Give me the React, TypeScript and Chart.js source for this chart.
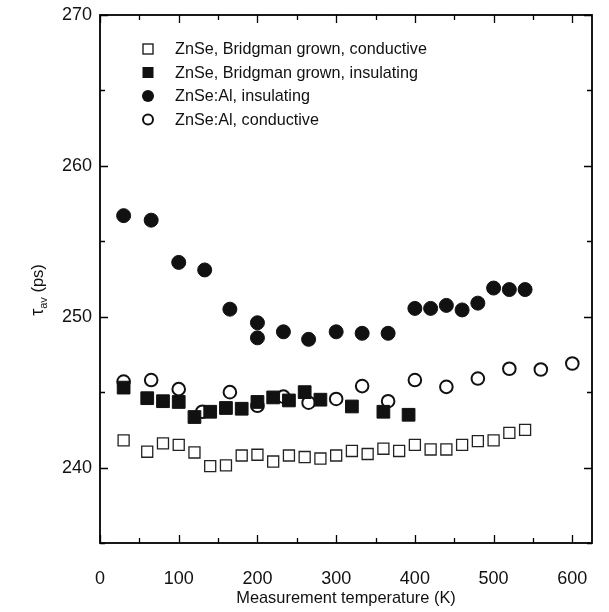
import React, { useEffect, useRef } from 'react';
import { Chart, registerables } from 'chart.js';

Chart.register(...registerables);

// ---- data ----
const bridgmanCondX = [30, 60, 80, 100, 120, 140, 160, 180, 200, 220, 240, 260, 280, 300, 320, 340, 360, 380, 400, 420, 440, 460, 480, 500, 520, 540];
const bridgmanCondY = [241.8, 241.05, 241.6, 241.5, 241.0, 240.1, 240.15, 240.8, 240.85, 240.4, 240.8, 240.7, 240.6, 240.8, 241.1, 240.9, 241.25, 241.1, 241.5, 241.2, 241.2, 241.5, 241.75, 241.8, 242.3, 242.5];

const bridgmanInsX = [30, 60, 80, 100, 120, 140, 160, 180, 200, 220, 240, 260, 280, 320, 360, 392];
const bridgmanInsY = [245.3, 244.6, 244.4, 244.35, 243.35, 243.7, 243.95, 243.9, 244.35, 244.65, 244.45, 245.0, 244.5, 244.05, 243.7, 243.5];

const alInsX = [30, 65, 100, 133, 165, 200, 200, 233, 265, 300, 333, 366, 400, 420, 440, 460, 480, 500, 520, 540];
const alInsY = [256.7, 256.4, 253.6, 253.1, 250.5, 249.6, 248.6, 249.0, 248.5, 249.0, 248.9, 248.9, 250.55, 250.55, 250.75, 250.45, 250.9, 251.9, 251.8, 251.8];

const alCondX = [30, 65, 100, 130, 165, 200, 233, 265, 300, 333, 366, 400, 440, 480, 520, 560, 600];
const alCondY = [245.7, 245.8, 245.2, 243.7, 245.0, 244.1, 244.7, 244.3, 244.55, 245.4, 244.4, 245.8, 245.35, 245.9, 246.55, 246.5, 246.9];

const seriesLabels = [
  'ZnSe, Bridgman grown, conductive',
  'ZnSe, Bridgman grown, insulating',
  'ZnSe:Al, insulating',
  'ZnSe:Al, conductive',
];

const xMajorTicks = [0, 100, 200, 300, 400, 500, 600];
const xMinorTicks = [50, 150, 250, 350, 450, 550];
const yMajorTicks = [240, 250, 260, 270];
const yMinorTicks = [235, 245, 255, 265];

const xTitle = 'Measurement temperature (K)';
const yTitleMain = 'τ';
const yTitleSub = 'av';
const yTitleUnit = ' (ps)';

const FONT = 'Arial, "Liberation Sans", Helvetica, sans-serif';

const toPts = (xs: number[], ys: number[]) => xs.map((x, i) => ({ x, y: ys[i] }));

type MarkerKind = 'openSquare' | 'filledSquare' | 'filledCircle' | 'openCircle';
const legendKinds: MarkerKind[] = ['openSquare', 'filledSquare', 'filledCircle', 'openCircle'];

function drawMarker(ctx: CanvasRenderingContext2D, kind: MarkerKind, x: number, y: number) {
  ctx.save();
  ctx.strokeStyle = '#111';
  ctx.fillStyle = '#111';
  if (kind === 'openSquare') {
    ctx.lineWidth = 1.3;
    ctx.fillStyle = '#fff';
    ctx.fillRect(x - 5, y - 5, 10, 10);
    ctx.strokeRect(x - 5, y - 5, 10, 10);
  } else if (kind === 'filledSquare') {
    ctx.fillRect(x - 5.5, y - 5.5, 11, 11);
  } else if (kind === 'filledCircle') {
    ctx.beginPath();
    ctx.arc(x, y, 6, 0, Math.PI * 2);
    ctx.fill();
  } else {
    ctx.lineWidth = 2;
    ctx.beginPath();
    ctx.arc(x, y, 5, 0, Math.PI * 2);
    ctx.fillStyle = '#fff';
    ctx.fill();
    ctx.stroke();
  }
  ctx.restore();
}

const decorPlugin = {
  id: 'decor',
  afterDraw(chart: any) {
    const { ctx, chartArea: a, scales } = chart;
    const xs = scales.x;
    const ys = scales.y;
    ctx.save();
    // frame
    ctx.strokeStyle = '#000';
    ctx.lineWidth = 1.8;
    ctx.strokeRect(a.left, a.top, a.right - a.left, a.bottom - a.top);
    // inward ticks
    ctx.lineWidth = 1.3;
    ctx.beginPath();
    const xt = (v: number, len: number) => {
      const px = Math.round(xs.getPixelForValue(v)) + 0.5;
      ctx.moveTo(px, a.bottom);
      ctx.lineTo(px, a.bottom - len);
      ctx.moveTo(px, a.top);
      ctx.lineTo(px, a.top + len);
    };
    const yt = (v: number, len: number) => {
      const py = Math.round(ys.getPixelForValue(v)) + 0.5;
      ctx.moveTo(a.left, py);
      ctx.lineTo(a.left + len, py);
      ctx.moveTo(a.right, py);
      ctx.lineTo(a.right - len, py);
    };
    xMajorTicks.forEach((v) => xt(v, 8));
    xMinorTicks.forEach((v) => xt(v, 5));
    yMajorTicks.forEach((v) => yt(v, 8));
    yMinorTicks.forEach((v) => yt(v, 5));
    ctx.stroke();

    // legend
    const lx = 148;
    const tx = 175;
    const ly0 = 49;
    const dy = 23.5;
    ctx.font = `16.2px ${FONT}`;
    ctx.fillStyle = '#111';
    ctx.textBaseline = 'middle';
    ctx.textAlign = 'left';
    seriesLabels.forEach((lab, i) => {
      const y = ly0 + i * dy;
      drawMarker(ctx, legendKinds[i], lx, y);
      ctx.fillStyle = '#111';
      ctx.fillText(lab, tx, y + 1);
    });

    // x title
    ctx.font = `16.4px ${FONT}`;
    ctx.textAlign = 'center';
    ctx.textBaseline = 'middle';
    ctx.fillText(xTitle, (a.left + a.right) / 2, 598);

    // y title (rotated, with subscript)
    ctx.save();
    ctx.translate(37, 290);
    ctx.rotate(-Math.PI / 2);
    ctx.textAlign = 'left';
    ctx.textBaseline = 'alphabetic';
    ctx.font = `18px ${FONT}`;
    const w1 = ctx.measureText(yTitleMain).width;
    ctx.font = `11px ${FONT}`;
    const w2 = ctx.measureText(yTitleSub).width;
    ctx.font = `16.5px ${FONT}`;
    const w3 = ctx.measureText(yTitleUnit).width;
    const total = w1 + w2 + w3;
    let cx = -total / 2;
    const base = 6;
    ctx.font = `18px ${FONT}`;
    ctx.fillText(yTitleMain, cx, base);
    cx += w1;
    ctx.font = `11px ${FONT}`;
    ctx.fillText(yTitleSub, cx, base + 4);
    cx += w2;
    ctx.font = `16.5px ${FONT}`;
    ctx.fillText(yTitleUnit, cx, base);
    ctx.restore();

    ctx.restore();
  },
};

export default function App() {
  const ref = useRef<HTMLCanvasElement | null>(null);

  useEffect(() => {
    if (!ref.current) return;
    const chart = new Chart(ref.current, {
      type: 'scatter',
      data: {
        datasets: [
          {
            label: seriesLabels[0],
            data: toPts(bridgmanCondX, bridgmanCondY),
            pointStyle: 'rect',
            pointRadius: 7.8,
            pointBackgroundColor: '#ffffff',
            pointBorderColor: '#222',
            pointBorderWidth: 1.3,
          },
          {
            label: seriesLabels[1],
            data: toPts(bridgmanInsX, bridgmanInsY),
            pointStyle: 'rect',
            pointRadius: 9,
            pointBackgroundColor: '#111',
            pointBorderColor: '#111',
            pointBorderWidth: 1,
          },
          {
            label: seriesLabels[2],
            data: toPts(alInsX, alInsY),
            pointStyle: 'circle',
            pointRadius: 7,
            pointBackgroundColor: '#111',
            pointBorderColor: '#111',
            pointBorderWidth: 1,
          },
          {
            label: seriesLabels[3],
            data: toPts(alCondX, alCondY),
            pointStyle: 'circle',
            pointRadius: 6.3,
            pointBackgroundColor: '#ffffff',
            pointBorderColor: '#111',
            pointBorderWidth: 2,
          },
        ],
      },
      options: {
        responsive: false,
        animation: false,
        devicePixelRatio: 1,
        layout: { padding: { top: 15, right: 17, left: 0, bottom: 0 } },
        plugins: { legend: { display: false }, tooltip: { enabled: false } },
        scales: {
          x: {
            type: 'linear',
            min: 0,
            max: 625,
            grid: { display: false, drawTicks: false },
            border: { display: false },
            afterBuildTicks: (s: any) => {
              s.ticks = xMajorTicks.map((v) => ({ value: v }));
            },
            ticks: {
              padding: 25,
              autoSkip: false,
              color: '#111',
              font: { family: FONT, size: 18 },
              maxRotation: 0,
              callback: (v: any) => String(v),
            },
            afterFit: (s: any) => {
              s.height = 69;
              s.paddingLeft = 0;
              s.paddingRight = 0;
            },
          },
          y: {
            type: 'linear',
            min: 235,
            max: 270,
            grid: { display: false, drawTicks: false },
            border: { display: false },
            afterBuildTicks: (s: any) => {
              s.ticks = yMajorTicks.map((v) => ({ value: v }));
            },
            ticks: {
              padding: 8,
              autoSkip: false,
              color: '#111',
              font: { family: FONT, size: 18 },
              callback: (v: any) => String(v),
            },
            afterFit: (s: any) => {
              s.width = 100;
              s.paddingTop = 0;
              s.paddingBottom = 0;
            },
          },
        },
      },
      plugins: [decorPlugin],
    } as any);
    return () => chart.destroy();
  }, []);

  return (
    <div style={{ position: 'absolute', left: 0, top: 0, width: 609, height: 612, background: '#fff' }}>
      <canvas ref={ref} width={609} height={612} style={{ display: 'block' }} />
    </div>
  );
}
